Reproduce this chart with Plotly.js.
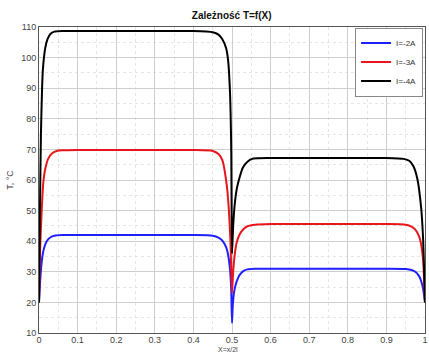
<!DOCTYPE html>
<html>
<head>
<meta charset="utf-8">
<script src="https://cdn.plot.ly/plotly-3.0.1.min.js"></script>
<style>html,body{margin:0;padding:0;background:#fff;}#chart{width:429px;height:352px;}</style>
</head>
<body>
<div id="chart"></div>
<script>
// X positions (dimensionless) and temperatures
const xBlue = [0, 0.003, 0.006, 0.01, 0.015, 0.02, 0.03, 0.04, 0.06, 0.1, 0.2, 0.3, 0.4, 0.45, 0.465, 0.475, 0.485, 0.49, 0.495, 0.498, 0.5, 0.502, 0.505, 0.51, 0.515, 0.52, 0.53, 0.54, 0.56, 0.6, 0.7, 0.8, 0.9, 0.95, 0.965, 0.975, 0.985, 0.99, 0.995, 1];
const tBlue = [20, 27, 32, 36, 38.5, 40, 41.3, 41.8, 42, 42, 42, 42, 42, 41.8, 41.2, 40.2, 38, 35.5, 30.5, 24, 13.3, 19, 23, 26, 27.8, 29, 30.3, 30.8, 31, 31, 31, 31, 31, 30.9, 30.6, 30, 28.5, 27, 24.5, 20];

const xRed = [0, 0.003, 0.007, 0.011, 0.016, 0.024, 0.035, 0.046, 0.06, 0.1, 0.2, 0.3, 0.4, 0.45, 0.465, 0.475, 0.487, 0.492, 0.496, 0.5, 0.503, 0.507, 0.512, 0.52, 0.53, 0.54, 0.56, 0.6, 0.7, 0.8, 0.9, 0.95, 0.965, 0.975, 0.985, 0.99, 0.995, 1];
const tRed = [20, 38, 50, 59, 63.5, 67, 68.8, 69.5, 69.7, 69.8, 69.8, 69.8, 69.8, 69.5, 68.5, 66.5, 57.7, 50, 40, 23, 30, 35.5, 39.5, 42.3, 44, 44.9, 45.4, 45.6, 45.6, 45.6, 45.6, 45.4, 44.8, 43.8, 41.5, 39, 34, 20];

const xBlack = [0, 0.002, 0.005, 0.008, 0.01, 0.016, 0.022, 0.03, 0.04, 0.06, 0.1, 0.2, 0.3, 0.4, 0.45, 0.465, 0.475, 0.485, 0.49, 0.495, 0.498, 0.5, 0.503, 0.507, 0.513, 0.52, 0.528, 0.54, 0.555, 0.6, 0.7, 0.8, 0.9, 0.945, 0.96, 0.97, 0.98, 0.99, 0.995, 1];
const tBlack = [20, 45, 75, 90, 96, 103, 106, 107.8, 108.5, 108.7, 108.7, 108.7, 108.7, 108.7, 108.3, 107.5, 106, 103, 99, 88, 70, 36, 45, 52, 57.5, 61, 64, 66, 67, 67.2, 67.2, 67.2, 67.2, 66.9, 66.2, 64.5, 60.5, 51, 41, 20];

const seriesNames = ['I=-2A', 'I=-3A', 'I=-4A'];
const seriesColors = ['#1f1fff', '#e8161b', '#000000'];
const xTitle = 'X=x/2l';

const traces = [
  {x: xBlue, y: tBlue, name: seriesNames[0]},
  {x: xRed, y: tRed, name: seriesNames[1]},
  {x: xBlack, y: tBlack, name: seriesNames[2]}
].map((t, i) => Object.assign(t, {
  type: 'scatter', mode: 'lines',
  line: {color: seriesColors[i], width: 2, shape: 'spline', smoothing: 0.6}
}));

const font = {family: 'Liberation Sans, Arial, sans-serif', size: 9, color: '#333'};

const layout = {
  width: 429, height: 352,
  margin: {l: 39, r: 4, t: 27, b: 19},
  paper_bgcolor: '#fff', plot_bgcolor: '#fff',
  font: font,
  title: {text: '<b>Zależność T=f(X)</b>', font: {family: 'Liberation Sans, Arial, sans-serif', size: 10, color: '#111'}, x: 0.54, xanchor: 'center', y: 0.955, yanchor: 'middle'},
  showlegend: true,
  legend: {x: 0.995, xanchor: 'right', y: 0.998, yanchor: 'top', bgcolor: '#fff', bordercolor: '#888', borderwidth: 1, font: {size: 8, color: '#333'}, tracegroupgap: 0, itemwidth: 30},
  annotations: [{
    text: xTitle, xref: 'paper', yref: 'paper', x: 0.49, y: 0, xanchor: 'center', yanchor: 'top',
    yshift: -11, showarrow: false, font: {size: 7, color: '#444'}
  }],
  xaxis: {
    range: [0, 1], dtick: 0.1, tick0: 0, ticks: '', tickangle: 0, showgrid: true, gridcolor: '#cfcfcf', gridwidth: 1,
    minor: {dtick: 0.05, showgrid: true, gridcolor: '#e6e6e6', griddash: 'dot'},
    showline: true, linecolor: '#555', linewidth: 1, mirror: true, zeroline: false,
    tickfont: {size: 9, color: '#444'}, ticklabelstandoff: -2,
    automargin: false
  },
  yaxis: {
    range: [10, 110], dtick: 10, tick0: 10, ticks: '', showgrid: true, gridcolor: '#cfcfcf', gridwidth: 1,
    minor: {dtick: 5, showgrid: true, gridcolor: '#e6e6e6', griddash: 'dot'},
    showline: true, linecolor: '#555', linewidth: 1, mirror: true, zeroline: false,
    tickfont: {size: 9, color: '#444'},
    automargin: false,
    title: {text: 'T, °C', font: {size: 9, color: '#444'}, standoff: 6}
  }
};

Plotly.newPlot('chart', traces, layout, {displayModeBar: false, staticPlot: true});
</script>
</body>
</html>
